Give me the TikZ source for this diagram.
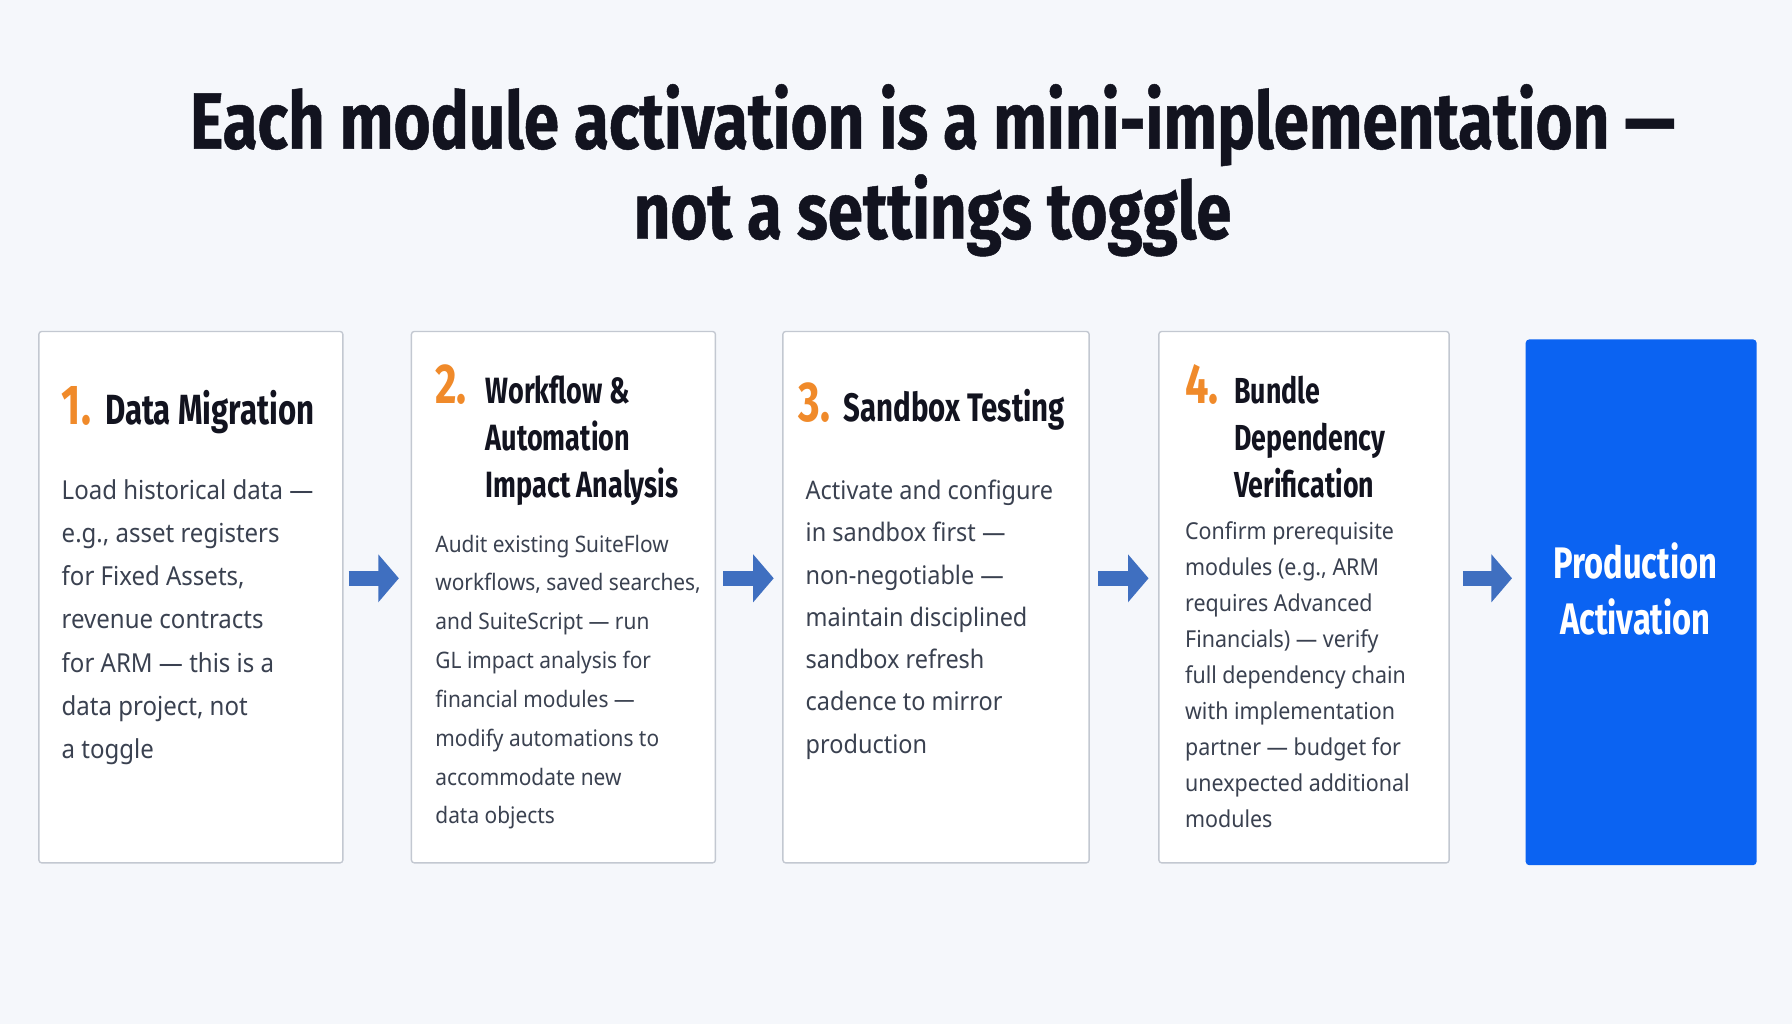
\documentclass[tikz,border=0pt]{standalone}
\usepackage{fontspec}
\usetikzlibrary{arrows.meta,positioning}
\setmainfont{Noto Sans}
\newfontfamily\bodyfont{Noto Sans}[FakeStretch=0.92]
\newfontfamily\headfont{Fira Sans}[FakeStretch=0.74]
\newfontfamily\titlefont{Fira Sans}[FakeStretch=0.80,BoldFeatures={FakeBold=0.6}]
\definecolor{pagebg}{HTML}{F5F7FB}
\definecolor{cardline}{HTML}{C3C8D1}
\definecolor{headink}{HTML}{12131F}
\definecolor{bodyink}{HTML}{3A4150}
\definecolor{numorange}{HTML}{F08A2A}
\definecolor{goalblue}{HTML}{0B63F2}
\definecolor{flowblue}{HTML}{3F6FC0}
\newcommand{\cellstack}[2][l]{\begin{tabular}[t]{@{}#1@{}}#2\end{tabular}}

\begin{document}
\begin{tikzpicture}
[x=0.1mm,y=-0.1mm,
 every node/.style={inner sep=0pt,outer sep=0pt},
 card/.style={draw=cardline,line width=0.12mm,fill=white,rounded corners=0.25mm,minimum height=46.5mm},
 goal/.style={fill=goalblue,rounded corners=0.3mm,minimum width=20.2mm,minimum height=46mm},
 num/.style={anchor=base west,text=numorange,font=\headfont\bfseries\fontsize{14}{14}\selectfont},
 head/.style={anchor=base west,text=headink,font=\headfont\bfseries\fontsize{#1}{11.66}\selectfont},
 body/.style 2 args={anchor=base west,text=bodyink,font=\bodyfont\fontsize{#1}{#2}\selectfont},
 flow/.style={color=flowblue,line width=1.3mm,-{Triangle[length=1.8mm,width=4.1mm]}}]
\fill[pagebg] (0,0) rectangle (1568,896);

% title
\node[anchor=base,text=headink,font=\titlefont\bfseries\fontsize{19.8}{21.3}\selectfont] (title) at (816,130)
  {\cellstack[c]{Each module activation is a mini-implementation —\\not a settings toggle}};

% the four steps
\node[card,minimum width=26.6mm] (c1) at (167,522.5) {};
\node[card,minimum width=26.6mm] (c2) at (493,522.5) {};
\node[card,minimum width=26.8mm] (c3) at (819,522.5) {};
\node[card,minimum width=25.4mm] (c4) at (1141,522.5) {};
\node[goal] (prod) at (1436,527) {};

\node[num]        (n1) at (54,371)   {1.};
\node[head=10.5]  (h1) at (92,371)   {\cellstack{Data Migration}};
\node[num]        (n2) at (381,353)  {2.};
\node[head=9.1]   (h2) at (425,353)  {\cellstack{Workflow \&\\Automation\\Impact Analysis}};
\node[num]        (n3) at (699,369)  {3.};
\node[head=9.9]   (h3) at (738,369)  {\cellstack{Sandbox Testing}};
\node[num]        (n4) at (1037,353) {4.};
\node[head=9.0]   (h4) at (1080,353) {\cellstack{Bundle\\Dependency\\Verification}};

\node[body={6.5}{10.75}] (d1) at (54,437)
  {\cellstack{Load historical data —\\e.g., asset registers\\for Fixed Assets,\\revenue contracts\\for ARM — this is a\\data project, not\\a toggle}};
\node[body={5.65}{9.67}] (d2) at (381,483)
  {\cellstack{Audit existing SuiteFlow\\workflows, saved searches,\\and SuiteScript — run\\GL impact analysis for\\financial modules —\\modify automations to\\accommodate new\\data objects}};
\node[body={6.35}{10.53}] (d3) at (705,437)
  {\cellstack{Activate and configure\\in sandbox first —\\non-negotiable —\\maintain disciplined\\sandbox refresh\\cadence to mirror\\production}};
\node[body={5.8}{8.96}] (d4) at (1037,472)
  {\cellstack{Confirm prerequisite\\modules (e.g., ARM\\requires Advanced\\Financials) — verify\\full dependency chain\\with implementation\\partner — budget for\\unexpected additional\\modules}};

\node[align=center,text=white,font=\headfont\bfseries\fontsize{11}{13.94}\selectfont] (pa) at (1431,515)
  {Production\\Activation};

% arrows
\draw[flow,shorten <=0.5mm,shorten >=1.1mm] ([yshift=1.65mm]c1.east) -- ([yshift=1.65mm]c2.west);
\draw[flow,shorten <=0.7mm,shorten >=0.8mm] ([yshift=1.65mm]c2.east) -- ([yshift=1.65mm]c3.west);
\draw[flow,shorten <=0.8mm,shorten >=0.9mm] ([yshift=1.65mm]c3.east) -- ([yshift=1.65mm]c4.west);
\draw[flow,shorten <=1.2mm,shorten >=1.2mm] ([yshift=1.65mm]c4.east) -- ([yshift=1.65mm]c4.east -| prod.west);
\end{tikzpicture}
\end{document}
